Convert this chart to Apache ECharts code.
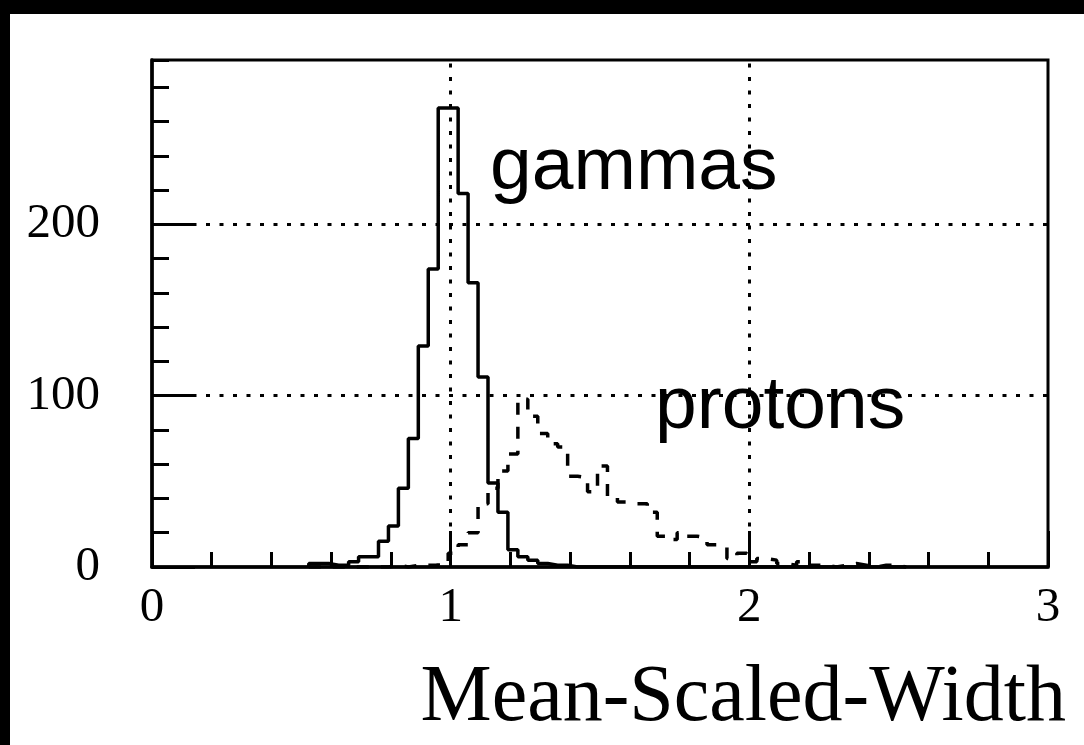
<!DOCTYPE html>
<html><head><meta charset="utf-8">
<script src="https://cdn.jsdelivr.net/npm/echarts@6/dist/echarts.min.js"></script>
<style>html,body{margin:0;padding:0;background:#fff}#c{width:1084px;height:745px}</style>
</head><body><div id="c"></div>
<script>
// Histogram binning (lower edge of first bin, bin width)
const binStart = 0.525;
const binWidth = 1 / 30;
// Counts per bin (gammas, solid)
const gammaCounts = [2,2,1,1,3,6,6,15,24,46, 75,129,174,268,268,218,166,111,49,32, 10,6,4,2,1,1,0,0,0,0, 0,0,0,0,0,0,0,0,0,0, 0,0,0,0,0,0,0,0,0,0, 0,0,0,0,0,0,0,0,0,0];
// Counts per bin (protons, dashed)
const protonCounts = [0,0,0,0,0,0,0,0,1,0, 1,1,1,3,8,13,20,37,46,56, 66,98,88,78,72,70,53,52,44,59, 41,38,37,37,32,18,16,20,18,17, 13,12,5,8,3,5,4,2,1,3, 1,1,0,1,2,1,0,1,1,0];
const xTickLabels = ['0','1','2','3'];
const yTickLabels = ['0','100','200'];
const gridX = [1, 2];
const gridY = [100, 200];
const seriesLabels = ['gammas', 'protons'];
const xTitle = 'Mean-Scaled-Width';

function stepData(counts) {
  const d = [[binStart, 0]];
  counts.forEach((c, i) => d.push([binStart + i * binWidth, c]));
  const end = binStart + counts.length * binWidth;
  d.push([end, counts[counts.length - 1]]);
  d.push([end, 0]);
  return d;
}

const chart = echarts.init(document.getElementById('c'), null, {renderer: 'canvas'});
const black = '#000';
const serif = '"Liberation Serif", "Times New Roman", serif';
const sans = '"Liberation Sans", Arial, sans-serif';

const option = {
  backgroundColor: '#fff',
  animation: false,
  grid: {left: 152, right: 36, top: 60, bottom: 178, show: true, borderColor: black, borderWidth: 3, backgroundColor: 'transparent'},
  xAxis: [
    {type: 'value', min: 0, max: 3, interval: 0.2, position: 'bottom',
     axisLine: {show: true, onZero: false, lineStyle: {color: black, width: 3.5}},
     axisTick: {show: true, inside: true, length: 15, lineStyle: {color: black, width: 3}},
     axisLabel: {show: false}, splitLine: {show: false}},
    {type: 'value', min: 0, max: 3, interval: 1, position: 'bottom',
     axisLine: {show: false, onZero: false},
     axisTick: {show: true, inside: true, length: 36, lineStyle: {color: black, width: 3}},
     axisLabel: {show: true, margin: 17, color: black, fontFamily: serif, fontSize: 49,
       formatter: v => xTickLabels.includes(String(v)) ? String(v) : ''},
     splitLine: {show: false}}
  ],
  yAxis: [
    {type: 'value', min: 0, max: 296, interval: 20, position: 'left',
     axisLine: {show: true, onZero: false, lineStyle: {color: black, width: 3.5}},
     axisTick: {show: true, inside: true, length: 17, lineStyle: {color: black, width: 3}},
     axisLabel: {show: false}, splitLine: {show: false}},
    {type: 'value', min: 0, max: 296, interval: 100, position: 'left',
     axisLine: {show: false, onZero: false},
     axisTick: {show: true, inside: true, length: 43, lineStyle: {color: black, width: 3}},
     axisLabel: {show: true, margin: 52, color: black, fontFamily: serif, fontSize: 49, showMaxLabel: false,
       formatter: v => yTickLabels.includes(String(v)) ? String(v) : ''},
     splitLine: {show: false}}
  ],
  series: [
    {name: seriesLabels[0], type: 'line', step: 'end', xAxisIndex: 0, yAxisIndex: 0,
     data: stepData(gammaCounts), symbol: 'none', lineStyle: {color: black, width: 3.5}, z: 3,
     markLine: {silent: true, symbol: 'none', label: {show: false},
       lineStyle: {color: black, width: 3, type: [4, 9.5]},
       data: gridY.map(v => ({yAxis: v})).concat(gridX.map(v => ({xAxis: v})))}},
    {name: seriesLabels[1], type: 'line', step: 'end', xAxisIndex: 0, yAxisIndex: 0,
     data: stepData(protonCounts), symbol: 'none', lineStyle: {color: black, width: 3.5, type: [12, 12]}, z: 3}
  ],
  graphic: [
    {type: 'rect', shape: {x: 0, y: 0, width: 1084, height: 14}, style: {fill: black}, z: 100},
    {type: 'rect', shape: {x: 0, y: 0, width: 10, height: 745}, style: {fill: black}, z: 100},
    {type: 'text', x: 490, y: 168, style: {text: seriesLabels[0], fontFamily: sans, fontSize: 75, fill: black, align: 'left', verticalAlign: 'middle'}, z: 100},
    {type: 'text', x: 655, y: 407, style: {text: seriesLabels[1], fontFamily: sans, fontSize: 75, fill: black, align: 'left', verticalAlign: 'middle'}, z: 100},
    {type: 'text', x: 1066, y: 699, style: {text: xTitle, fontFamily: serif, fontSize: 80, fill: black, align: 'right', verticalAlign: 'middle'}, z: 100}
  ]
};
chart.setOption(option);
</script></body></html>
